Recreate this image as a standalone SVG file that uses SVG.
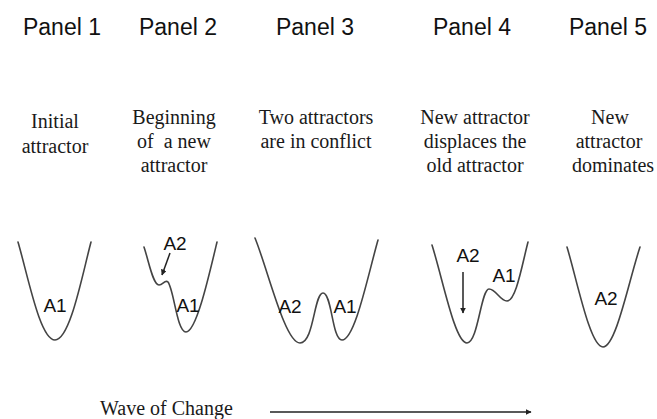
<svg xmlns="http://www.w3.org/2000/svg" width="657" height="419" viewBox="0 0 657 419">
<defs>
<style>
.title{font-family:"Liberation Sans",Arial,sans-serif;font-size:23px;fill:#111;text-anchor:middle}
.desc{font-family:"Liberation Serif","Times New Roman",serif;font-size:20px;fill:#1a1a1a;text-anchor:middle}
.lbl{font-family:"Liberation Sans",Arial,sans-serif;font-size:19px;fill:#111;text-anchor:middle}
.curve{fill:none;stroke:#444;stroke-width:1.6;stroke-linecap:round;stroke-linejoin:round}
.arr{fill:none;stroke:#222;stroke-width:1.5}
.wave{font-family:"Liberation Serif","Times New Roman",serif;font-size:20px;fill:#1a1a1a}
</style>
<marker id="ah" viewBox="0 0 10 10" refX="9" refY="5" markerWidth="6" markerHeight="6" markerUnits="userSpaceOnUse" orient="auto">
<path d="M0,0 L10,5 L0,10 z" fill="#222"/>
</marker>
</defs>
<rect width="657" height="419" fill="#fff"/>

<g id="panel1">
<text class="title" x="62" y="35">Panel 1</text>
<text class="desc" x="55" y="128">Initial</text>
<text class="desc" x="55" y="153">attractor</text>
<path class="curve" d="M18,242 C28,276 40,340 55,340 C70,340 82,276 91,242"/>
<text class="lbl" x="55" y="312">A1</text>
</g>

<g id="panel2">
<text class="title" x="178" y="35">Panel 2</text>
<text class="desc" x="174" y="124">Beginning</text>
<text class="desc" x="174" y="148" xml:space="preserve">of  a new</text>
<text class="desc" x="174" y="172">attractor</text>
<path class="curve" d="M144,247 C149,262 153,285 159,285 C163,285 165,279 168,282 C174,290 177,332 186,332 C196,332 208,280 217,242"/>
<text class="lbl" x="175" y="250">A2</text>
<text class="lbl" x="188" y="312">A1</text>
</g>

<g id="panel3">
<text class="title" x="315" y="35">Panel 3</text>
<text class="desc" x="316" y="124">Two attractors</text>
<text class="desc" x="316" y="148">are in conflict</text>
<path class="curve" d="M255,238 C268,270 285,343 300,343 C314,343 314,293 323,293 C332,293 332,340 342,340 C355,340 368,275 378,240"/>
<text class="lbl" x="290" y="313">A2</text>
<text class="lbl" x="345" y="313">A1</text>
</g>

<g id="panel4">
<text class="title" x="472" y="35">Panel 4</text>
<text class="desc" x="475" y="124">New attractor</text>
<text class="desc" x="475" y="148">displaces the</text>
<text class="desc" x="475" y="172">old attractor</text>
<path class="curve" d="M432,245 C443,280 455,343 467,343 C478,343 481,289 489,289 C496,289 500,301 507,301 C516,301 522,265 528,242"/>
<text class="lbl" x="468" y="262">A2</text>
<text class="lbl" x="504" y="282">A1</text>
</g>

<g id="panel5">
<text class="title" x="608" y="35">Panel 5</text>
<text class="desc" x="610" y="124">New</text>
<text class="desc" x="609" y="148">attractor</text>
<text class="desc" x="613" y="172">dominates</text>
<path class="curve" d="M567,247 C577,280 590,347 603,347 C616,347 629,280 640,247"/>
<text class="lbl" x="606" y="305">A2</text>
</g>

<g id="wave">
<text class="wave" x="100" y="415">Wave of Change</text>
</g>

<g id="connectors">
<line class="arr" x1="170" y1="253" x2="162" y2="275" marker-end="url(#ah)"/>
<line class="arr" x1="463" y1="272" x2="463" y2="313" marker-end="url(#ah)"/>
<line class="arr" x1="270" y1="412" x2="531" y2="412" marker-end="url(#ah)"/>
</g>
</svg>
